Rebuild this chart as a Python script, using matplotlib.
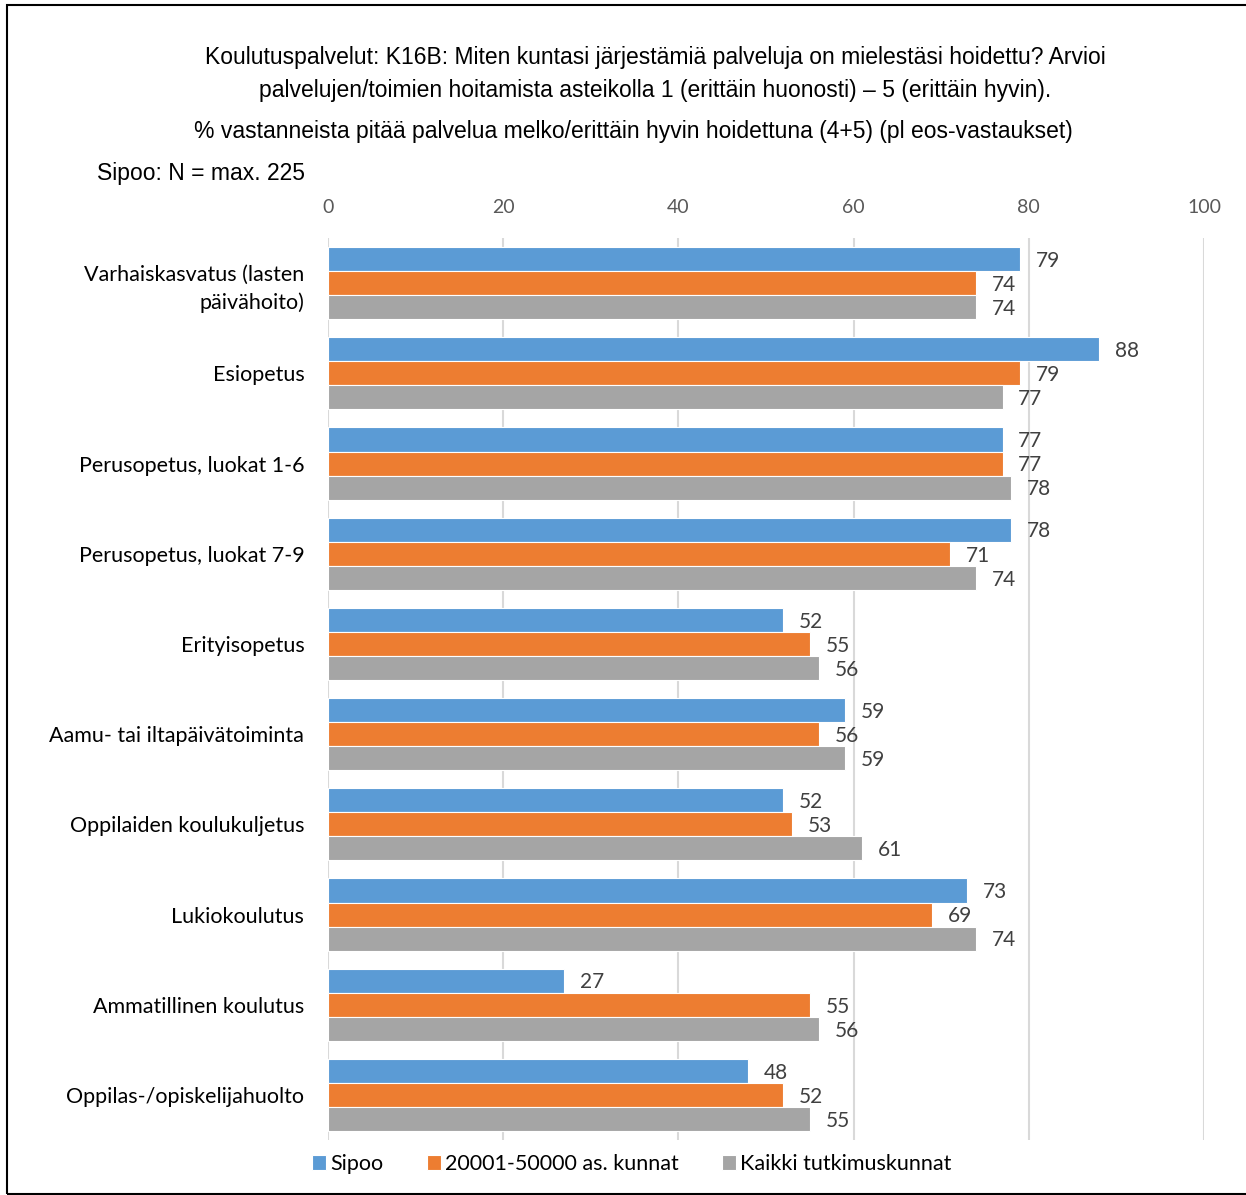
import numpy as np
import matplotlib.pyplot as plt
from matplotlib.patches import Rectangle

categories = ['Varhaiskasvatus (lasten\npäivähoito)', 'Esiopetus', 'Perusopetus, luokat 1-6',
              'Perusopetus, luokat 7-9', 'Erityisopetus', 'Aamu- tai iltapäivätoiminta',
              'Oppilaiden koulukuljetus', 'Lukiokoulutus', 'Ammatillinen koulutus',
              'Oppilas-/opiskelijahuolto']
sipoo = [79, 88, 77, 78, 52, 59, 52, 73, 27, 48]
kunnat = [74, 79, 77, 71, 55, 56, 53, 69, 55, 52]
kaikki = [74, 77, 78, 74, 56, 59, 61, 74, 56, 55]
series_names = ['Sipoo', '20001-50000 as. kunnat', 'Kaikki tutkimuskunnat']
colors = ['#5B9BD5', '#ED7D31', '#A5A5A5']
xticks = [0, 20, 40, 60, 80, 100]

title_font = ['Liberation Sans Narrow', 'Liberation Sans', 'DejaVu Sans']
body_font = ['Lato', 'DejaVu Sans']

fig = plt.figure(figsize=(12.46, 11.95), dpi=100)
ax = fig.add_axes([0.2632, 0.046, 0.7031, 0.7548])

y = np.arange(len(categories))
h = 0.8 / 3
for i, (vals, col) in enumerate(zip([sipoo, kunnat, kaikki], colors)):
    pos = y - 0.4 + h * (i + 0.5)
    ax.barh(pos, vals, height=h, color=col, edgecolor='white', linewidth=0.8,
            label=series_names[i], zorder=3)
    for p, v in zip(pos, vals):
        ax.text(v + 1.8, p + 0.02, str(v), va='center', ha='left', fontsize=15,
                color='#404040', family=body_font)

ax.set_xlim(0, 100)
ax.set_ylim(len(categories) - 0.5, -0.5)
ax.set_xticks(xticks)
ax.xaxis.tick_top()
ax.tick_params(axis='x', length=0, pad=16, labelsize=14, labelcolor='#595959')
ax.tick_params(axis='y', length=0, pad=17)
ax.set_yticks(y)
ax.set_yticklabels(categories, family=body_font, fontsize=15.5, color='black',
                   linespacing=1.45)
for lbl in ax.get_xticklabels():
    lbl.set_family(body_font)
ax.grid(axis='x', color='#D9D9D9', linewidth=1.5, zorder=0)
for s in ax.spines.values():
    s.set_visible(False)

leg = fig.legend(loc='center', bbox_to_anchor=(0.507, 0.026), ncol=3, frameon=False,
                 prop={'family': body_font, 'size': 15.5}, handlelength=0.65,
                 handleheight=0.65, handletextpad=0.2, columnspacing=2.0)

fig.text(0.526, 0.952, 'Koulutuspalvelut: K16B: Miten kuntasi järjestämiä palveluja on mielestäsi hoidettu? Arvioi',
         ha='center', va='center', fontsize=16.5, family=title_font)
fig.text(0.526, 0.924, 'palvelujen/toimien hoitamista asteikolla 1 (erittäin huonosti) – 5 (erittäin hyvin).',
         ha='center', va='center', fontsize=16.5, family=title_font)
fig.text(0.508, 0.890, '% vastanneista pitää palvelua melko/erittäin hyvin hoidettuna (4+5) (pl eos-vastaukset)',
         ha='center', va='center', fontsize=16.5, family=title_font)
fig.text(0.078, 0.855, 'Sipoo: N = max. 225', ha='left', va='center', fontsize=16.5, family=title_font)

fig.patches.append(Rectangle((0.006, 0.001), 1.0, 0.995, transform=fig.transFigure,
                             fill=False, edgecolor='black', linewidth=1.5))

fig.savefig('out.png', dpi=100)
